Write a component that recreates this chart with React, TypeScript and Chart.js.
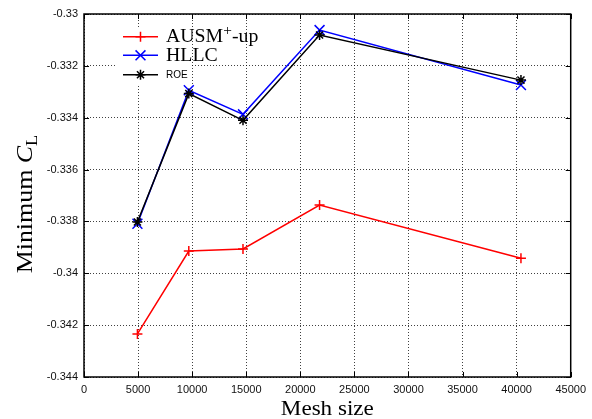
import React, { useEffect, useRef } from "react";
import { Chart, registerables } from "chart.js";

Chart.register(...registerables);

// ---- data ----
const meshSize = [4940, 9690, 14700, 21780, 40400];
const ausmUp = [-0.34234, -0.33914, -0.33906, -0.33737, -0.33942];
const hllc = [-0.33809, -0.33294, -0.33387, -0.33062, -0.33274];
const roe = [-0.33802, -0.33307, -0.3341, -0.33081, -0.33255];

const xTickValues = [0, 5000, 10000, 15000, 20000, 25000, 30000, 35000, 40000, 45000];
const yTickValues = [-0.344, -0.342, -0.34, -0.338, -0.336, -0.334, -0.332, -0.33];

const xTitle = "Mesh size";
const yTitleMain = "Minimum ";
const yTitleSymbol = "C";
const yTitleSub = "L";

const seriesNames = ["AUSM", "HLLC", "ROE"];

const SERIF = "'Liberation Serif', 'Times New Roman', serif";
const SANS = "'Liberation Sans', Arial, sans-serif";

type Run = { t: string; font: string; dy?: number };

function drawRuns(ctx: CanvasRenderingContext2D, runs: Run[], stretch: number, measureOnly = false): number {
  let cx = 0;
  ctx.save();
  ctx.scale(stretch, 1);
  for (const r of runs) {
    ctx.font = r.font;
    if (!measureOnly) ctx.fillText(r.t, cx, r.dy || 0);
    cx += ctx.measureText(r.t).width;
  }
  ctx.restore();
  return cx * stretch;
}

function drawMarker(ctx: CanvasRenderingContext2D, style: string, x: number, y: number, r: number) {
  ctx.beginPath();
  if (style === "cross" || style === "star") {
    ctx.moveTo(x - r, y);
    ctx.lineTo(x + r, y);
    ctx.moveTo(x, y - r);
    ctx.lineTo(x, y + r);
  }
  if (style === "crossRot" || style === "star") {
    const o = r * Math.SQRT1_2;
    ctx.moveTo(x - o, y - o);
    ctx.lineTo(x + o, y + o);
    ctx.moveTo(x - o, y + o);
    ctx.lineTo(x + o, y - o);
  }
  ctx.stroke();
}

const decorPlugin = {
  id: "decor",
  beforeDatasetsDraw(chart: any) {
    const ctx: CanvasRenderingContext2D = chart.ctx;
    ctx.save();
    ctx.fillStyle = "#ffffff";
    ctx.fillRect(115, 29, 75, 56);
    ctx.restore();
  },
  afterDraw(chart: any) {
    const ctx: CanvasRenderingContext2D = chart.ctx;
    const a = chart.chartArea;
    const xs = chart.scales.x;
    const ys = chart.scales.y;
    ctx.save();
    // frame
    ctx.strokeStyle = "#000";
    ctx.lineWidth = 1.5;
    ctx.setLineDash([]);
    ctx.strokeRect(a.left, a.top, a.right - a.left, a.bottom - a.top);
    // inward ticks (mirrored)
    ctx.lineWidth = 1;
    ctx.beginPath();
    for (const v of xTickValues) {
      const px = Math.round(xs.getPixelForValue(v)) + 0.5;
      ctx.moveTo(px, a.bottom);
      ctx.lineTo(px, a.bottom - 5);
      ctx.moveTo(px, a.top);
      ctx.lineTo(px, a.top + 5);
    }
    for (const v of yTickValues) {
      const py = Math.round(ys.getPixelForValue(v)) + 0.5;
      ctx.moveTo(a.left, py);
      ctx.lineTo(a.left + 5, py);
      ctx.moveTo(a.right, py);
      ctx.lineTo(a.right - 5, py);
    }
    ctx.stroke();

    // x title
    ctx.fillStyle = "#000";
    ctx.textBaseline = "alphabetic";
    ctx.textAlign = "left";
    const xRuns: Run[] = [{ t: xTitle, font: `21px ${SERIF}` }];
    const xw = drawRuns(ctx, xRuns, 1.1, true);
    ctx.save();
    ctx.translate((a.left + a.right) / 2 - xw / 2, 415);
    drawRuns(ctx, xRuns, 1.1);
    ctx.restore();

    // y title (rotated)
    const yRuns: Run[] = [
      { t: yTitleMain, font: `24px ${SERIF}` },
      { t: yTitleSymbol, font: `italic 24px ${SERIF}` },
      { t: yTitleSub, font: `17px ${SERIF}`, dy: 5 },
    ];
    const yw = drawRuns(ctx, yRuns, 1.08, true);
    ctx.save();
    ctx.translate(32, 204);
    ctx.rotate(-Math.PI / 2);
    ctx.translate(-yw / 2, 0);
    drawRuns(ctx, yRuns, 1.08);
    ctx.restore();

    // legend
    const rows = [
      { color: "#ff0000", style: "cross", r: 5, y: 36.7 },
      { color: "#0000ff", style: "crossRot", r: 7, y: 55.3 },
      { color: "#000000", style: "star", r: 5, y: 74.8 },
    ];
    rows.forEach((row, i) => {
      ctx.strokeStyle = row.color;
      ctx.lineWidth = 1.5;
      ctx.beginPath();
      ctx.moveTo(123, row.y);
      ctx.lineTo(158, row.y);
      ctx.stroke();
      drawMarker(ctx, row.style, 140.5, row.y, row.r);
      ctx.fillStyle = "#000";
      ctx.save();
      ctx.translate(166, row.y + (i === 2 ? 3.5 : 5.5));
      if (i === 0) {
        drawRuns(
          ctx,
          [
            { t: seriesNames[0], font: `18px ${SERIF}` },
            { t: "+", font: `14px ${SERIF}`, dy: -7 },
            { t: "-up", font: `18px ${SERIF}` },
          ],
          1.1
        );
      } else if (i === 1) {
        drawRuns(ctx, [{ t: seriesNames[1], font: `18px ${SERIF}` }], 1.1);
      } else {
        drawRuns(ctx, [{ t: seriesNames[2], font: `10px ${SANS}` }], 1);
      }
      ctx.restore();
    });
    ctx.restore();
  },
};

function toPoints(ys: number[]) {
  return meshSize.map((x, i) => ({ x, y: ys[i] }));
}

export default function App() {
  const ref = useRef<HTMLCanvasElement>(null);
  useEffect(() => {
    document.body.style.margin = "0";
    const gridCommon = {
      color: "rgba(0,0,0,0.75)",
      lineWidth: 1,
      drawTicks: false,
    };
    const chart = new Chart(ref.current as HTMLCanvasElement, {
      type: "line",
      data: {
        datasets: [
          {
            label: "ROE",
            data: toPoints(roe),
            borderColor: "#000000",
            backgroundColor: "#000000",
            borderWidth: 1.5,
            pointStyle: "star",
            pointRadius: 5,
            pointBorderWidth: 1.5,
            pointBorderColor: "#000000",
          },
          {
            label: "HLLC",
            data: toPoints(hllc),
            borderColor: "#0000ff",
            backgroundColor: "#0000ff",
            borderWidth: 1.5,
            pointStyle: "crossRot",
            pointRadius: 7,
            pointBorderWidth: 1.5,
            pointBorderColor: "#0000ff",
          },
          {
            label: "AUSM+-up",
            data: toPoints(ausmUp),
            borderColor: "#ff0000",
            backgroundColor: "#ff0000",
            borderWidth: 1.5,
            pointStyle: "cross",
            pointRadius: 5,
            pointBorderWidth: 1.5,
            pointBorderColor: "#ff0000",
          },
        ],
      },
      options: {
        responsive: false,
        animation: false,
        devicePixelRatio: 1,
        layout: { padding: { left: 0, right: 19, top: 14, bottom: 0 } },
        plugins: {
          legend: { display: false },
          tooltip: { enabled: false },
        },
        elements: { line: { tension: 0 } },
        scales: {
          x: {
            type: "linear",
            min: 0,
            max: 45000,
            afterBuildTicks: (s: any) => {
              s.ticks = xTickValues.map((v) => ({ value: v }));
            },
            afterFit: (s: any) => {
              s.height = 42;
            },
            ticks: {
              autoSkip: false,
              maxRotation: 0,
              padding: 6,
              color: "#111",
              font: { family: SANS, size: 11 },
              callback: (v: any) => String(v),
            },
            grid: gridCommon,
            border: { display: false, dash: [1, 2] },
          },
          y: {
            type: "linear",
            min: -0.344,
            max: -0.33,
            afterBuildTicks: (s: any) => {
              s.ticks = yTickValues.map((v) => ({ value: v }));
            },
            afterFit: (s: any) => {
              s.width = 84;
            },
            ticks: {
              autoSkip: false,
              padding: 6,
              color: "#111",
              font: { family: SANS, size: 11 },
              callback: (v: any) => String(parseFloat(Number(v).toFixed(3))),
            },
            grid: gridCommon,
            border: { display: false, dash: [1, 2] },
          },
        },
      },
      plugins: [decorPlugin],
    } as any);
    return () => chart.destroy();
  }, []);
  return (
    <canvas
      ref={ref}
      width={592}
      height={419}
      style={{ display: "block", width: 592, height: 419 }}
    />
  );
}
